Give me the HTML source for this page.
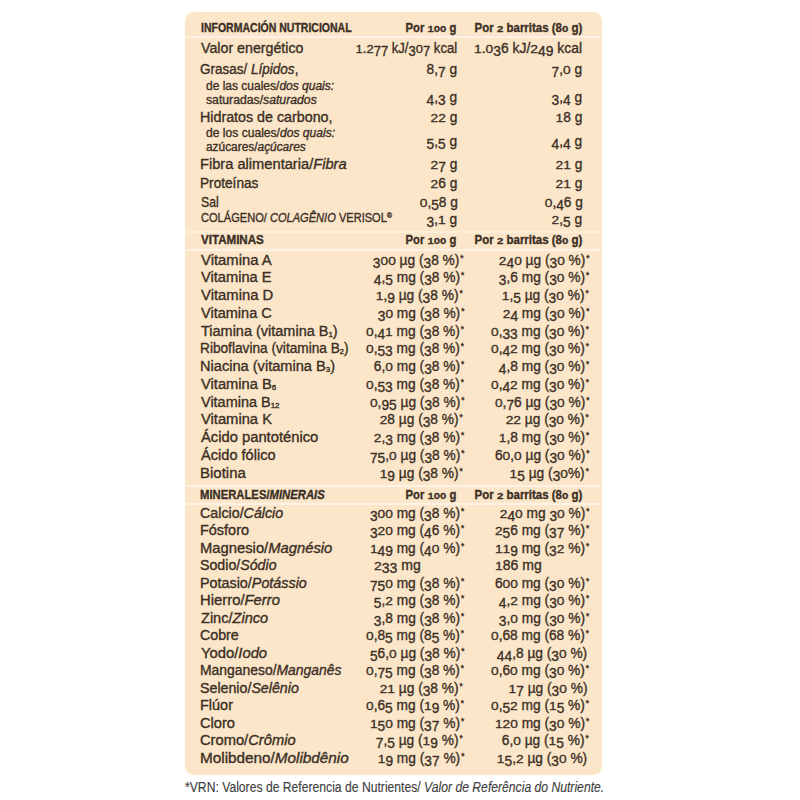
<!DOCTYPE html><html><head><meta charset="utf-8"><style>*{margin:0;padding:0;box-sizing:border-box}
html,body{width:800px;height:800px;background:#fff;overflow:hidden}
body{position:relative;font-family:"Liberation Sans", sans-serif;color:#3b2f25}
.box{position:absolute;left:185.5px;top:12.5px;width:415.5px;height:761.5px;background:#fce6c9;border-radius:8px;box-shadow:0 0 1px 0.5px #fce6c9}
.sep{position:absolute;left:186px;width:415px;height:2px;background:#fef3e6}
.t{position:absolute;white-space:nowrap;line-height:20px;height:20px;-webkit-text-stroke:0.35px #3b2f25}
.t span{display:inline-block}
sub{font-size:0.55em;vertical-align:-0.15em;line-height:0}
sup{font-size:0.6em;vertical-align:0.5em;line-height:0}
.ast{font-size:8.5px;vertical-align:4px;margin-left:1px;line-height:0}
.ox{display:inline-block}
.od{display:inline-block;transform:translateY(2.7px)}
</style></head><body>
<div class="box"></div>
<div class="sep" style="top:36px;opacity:1"></div>
<div class="sep" style="top:231px;opacity:0.6"></div>
<div class="sep" style="top:249px;opacity:1"></div>
<div class="sep" style="top:485px;opacity:1"></div>
<div class="sep" style="top:503px;opacity:1"></div>
<div class="t" style="font-size:12.5px;top:17.70px;font-weight:bold;left:201.00px;"><span style="transform:scaleX(0.8408);transform-origin:0 0;">INFORMACIÓN NUTRICIONAL</span></div>
<div class="t" style="font-size:12.5px;top:17.70px;font-weight:bold;right:343.60px;"><span style="transform:scaleX(0.9002);transform-origin:100% 0;">Por <span class="ox" style="transform-origin:50% 14.0px;transform:scaleY(0.78)">1</span><span class="ox" style="transform-origin:50% 14.0px;transform:scaleY(0.78)">0</span><span class="ox" style="transform-origin:50% 14.0px;transform:scaleY(0.78)">0</span> g</span></div>
<div class="t" style="font-size:12.5px;top:17.70px;font-weight:bold;right:218.00px;"><span style="transform:scaleX(0.9181);transform-origin:100% 0;">Por <span class="ox" style="transform-origin:50% 14.0px;transform:scaleY(0.78)">2</span> barritas (8<span class="ox" style="transform-origin:50% 14.0px;transform:scaleY(0.78)">0</span> g)</span></div>
<div class="t" style="font-size:14px;top:38.30px;left:201.00px;"><span style="transform:scaleX(1.0151);transform-origin:0 0;">Valor energético</span></div>
<div class="t" style="font-size:14px;top:38.30px;right:343.00px;"><span style="transform:scaleX(0.9306);transform-origin:100% 0;"><span class="ox" style="transform-origin:50% 15.0px;transform:scaleY(0.73)">1</span>.<span class="ox" style="transform-origin:50% 15.0px;transform:scaleY(0.73)">2</span><span class="od">7</span><span class="od">7</span> kJ/<span class="od">3</span><span class="ox" style="transform-origin:50% 15.0px;transform:scaleY(0.73)">0</span><span class="od">7</span> kcal</span></div>
<div class="t" style="font-size:14px;top:38.30px;right:218.00px;"><span style="transform:scaleX(0.9907);transform-origin:100% 0;"><span class="ox" style="transform-origin:50% 15.0px;transform:scaleY(0.73)">1</span>.<span class="ox" style="transform-origin:50% 15.0px;transform:scaleY(0.73)">0</span><span class="od">3</span>6 kJ/<span class="ox" style="transform-origin:50% 15.0px;transform:scaleY(0.73)">2</span><span class="od">4</span><span class="od">9</span> kcal</span></div>
<div class="t" style="font-size:14px;top:59.30px;left:200.00px;"><span style="transform:scaleX(0.9651);transform-origin:0 0;">Grasas/ <i>Lípidos</i>,</span></div>
<div class="t" style="font-size:14px;top:59.30px;right:343.00px;"><span style="transform:scaleX(0.9800);transform-origin:100% 0;">8,<span class="od">7</span> g</span></div>
<div class="t" style="font-size:14px;top:59.30px;right:218.00px;"><span style="transform:scaleX(0.9800);transform-origin:100% 0;"><span class="od">7</span>,<span class="ox" style="transform-origin:50% 15.0px;transform:scaleY(0.73)">0</span> g</span></div>
<div class="t" style="font-size:12px;top:75.50px;left:206.00px;"><span style="transform:scaleX(1.0000);transform-origin:0 0;">de las cuales/<i>dos quais:</i></span></div>
<div class="t" style="font-size:12px;top:90.20px;left:206.00px;"><span style="transform:scaleX(1.0183);transform-origin:0 0;">saturadas/<i>saturados</i></span></div>
<div class="t" style="font-size:14px;top:87.20px;right:343.00px;"><span style="transform:scaleX(0.9800);transform-origin:100% 0;"><span class="od">4</span>,<span class="od">3</span> g</span></div>
<div class="t" style="font-size:14px;top:87.20px;right:218.00px;"><span style="transform:scaleX(0.9800);transform-origin:100% 0;"><span class="od">3</span>,<span class="od">4</span> g</span></div>
<div class="t" style="font-size:14px;top:107.20px;left:200.00px;"><span style="transform:scaleX(1.0195);transform-origin:0 0;">Hidratos de carbono,</span></div>
<div class="t" style="font-size:14px;top:107.20px;right:343.00px;"><span style="transform:scaleX(0.9800);transform-origin:100% 0;"><span class="ox" style="transform-origin:50% 15.0px;transform:scaleY(0.73)">2</span><span class="ox" style="transform-origin:50% 15.0px;transform:scaleY(0.73)">2</span> g</span></div>
<div class="t" style="font-size:14px;top:107.20px;right:218.00px;"><span style="transform:scaleX(0.9800);transform-origin:100% 0;"><span class="ox" style="transform-origin:50% 15.0px;transform:scaleY(0.73)">1</span>8 g</span></div>
<div class="t" style="font-size:12px;top:122.90px;left:206.00px;"><span style="transform:scaleX(1.0078);transform-origin:0 0;">de los cuales/<i>dos quais:</i></span></div>
<div class="t" style="font-size:12px;top:136.60px;left:206.00px;"><span style="transform:scaleX(0.9902);transform-origin:0 0;">azúcares/<i>açúcares</i></span></div>
<div class="t" style="font-size:14px;top:131.10px;right:343.00px;"><span style="transform:scaleX(0.9800);transform-origin:100% 0;"><span class="od">5</span>,<span class="od">5</span> g</span></div>
<div class="t" style="font-size:14px;top:131.10px;right:218.00px;"><span style="transform:scaleX(0.9800);transform-origin:100% 0;"><span class="od">4</span>,<span class="od">4</span> g</span></div>
<div class="t" style="font-size:14px;top:153.70px;left:200.00px;"><span style="transform:scaleX(1.0468);transform-origin:0 0;">Fibra alimentaria/<i>Fibra</i></span></div>
<div class="t" style="font-size:14px;top:153.70px;right:343.00px;"><span style="transform:scaleX(0.9800);transform-origin:100% 0;"><span class="ox" style="transform-origin:50% 15.0px;transform:scaleY(0.73)">2</span><span class="od">7</span> g</span></div>
<div class="t" style="font-size:14px;top:153.70px;right:218.00px;"><span style="transform:scaleX(0.9800);transform-origin:100% 0;"><span class="ox" style="transform-origin:50% 15.0px;transform:scaleY(0.73)">2</span><span class="ox" style="transform-origin:50% 15.0px;transform:scaleY(0.73)">1</span> g</span></div>
<div class="t" style="font-size:14px;top:173.20px;left:200.00px;"><span style="transform:scaleX(0.9747);transform-origin:0 0;">Proteínas</span></div>
<div class="t" style="font-size:14px;top:173.20px;right:343.00px;"><span style="transform:scaleX(0.9800);transform-origin:100% 0;"><span class="ox" style="transform-origin:50% 15.0px;transform:scaleY(0.73)">2</span>6 g</span></div>
<div class="t" style="font-size:14px;top:173.20px;right:218.00px;"><span style="transform:scaleX(0.9800);transform-origin:100% 0;"><span class="ox" style="transform-origin:50% 15.0px;transform:scaleY(0.73)">2</span><span class="ox" style="transform-origin:50% 15.0px;transform:scaleY(0.73)">1</span> g</span></div>
<div class="t" style="font-size:14px;top:192.00px;left:201.00px;"><span style="transform:scaleX(0.8710);transform-origin:0 0;">Sal</span></div>
<div class="t" style="font-size:14px;top:192.00px;right:342.00px;"><span style="transform:scaleX(0.9800);transform-origin:100% 0;"><span class="ox" style="transform-origin:50% 15.0px;transform:scaleY(0.73)">0</span>,<span class="od">5</span>8 g</span></div>
<div class="t" style="font-size:14px;top:192.00px;right:217.00px;"><span style="transform:scaleX(0.9800);transform-origin:100% 0;"><span class="ox" style="transform-origin:50% 15.0px;transform:scaleY(0.73)">0</span>,<span class="od">4</span>6 g</span></div>
<div class="t" style="font-size:12.5px;top:208.45px;left:201.00px;"><span style="transform:scaleX(0.8861);transform-origin:0 0;">COLÁGENO/ <i>COLAGÊNIO</i> VERISOL<sup>®</sup></span></div>
<div class="t" style="font-size:14px;top:209.45px;right:343.00px;"><span style="transform:scaleX(0.9800);transform-origin:100% 0;"><span class="od">3</span>,<span class="ox" style="transform-origin:50% 15.0px;transform:scaleY(0.73)">1</span> g</span></div>
<div class="t" style="font-size:14px;top:209.45px;right:218.00px;"><span style="transform:scaleX(0.9800);transform-origin:100% 0;"><span class="ox" style="transform-origin:50% 15.0px;transform:scaleY(0.73)">2</span>,<span class="od">5</span> g</span></div>
<div class="t" style="font-size:12.5px;top:230.45px;font-weight:bold;left:201.00px;"><span style="transform:scaleX(0.9256);transform-origin:0 0;">VITAMINAS</span></div>
<div class="t" style="font-size:12.5px;top:230.45px;font-weight:bold;right:343.60px;"><span style="transform:scaleX(0.9002);transform-origin:100% 0;">Por <span class="ox" style="transform-origin:50% 14.0px;transform:scaleY(0.78)">1</span><span class="ox" style="transform-origin:50% 14.0px;transform:scaleY(0.78)">0</span><span class="ox" style="transform-origin:50% 14.0px;transform:scaleY(0.78)">0</span> g</span></div>
<div class="t" style="font-size:12.5px;top:230.45px;font-weight:bold;right:218.00px;"><span style="transform:scaleX(0.9181);transform-origin:100% 0;">Por <span class="ox" style="transform-origin:50% 14.0px;transform:scaleY(0.78)">2</span> barritas (8<span class="ox" style="transform-origin:50% 14.0px;transform:scaleY(0.78)">0</span> g)</span></div>
<div class="t" style="font-size:14px;top:249.70px;left:201.00px;"><span style="transform:scaleX(1.0608);transform-origin:0 0;">Vitamina A</span></div>
<div class="t" style="font-size:14px;top:249.70px;right:336.00px;"><span style="transform:scaleX(0.9800);transform-origin:100% 0;"><span class="od">3</span><span class="ox" style="transform-origin:50% 15.0px;transform:scaleY(0.73)">0</span><span class="ox" style="transform-origin:50% 15.0px;transform:scaleY(0.73)">0</span> µg (<span class="od">3</span>8 %)<span class="ast">*</span></span></div>
<div class="t" style="font-size:14px;top:249.70px;right:210.00px;"><span style="transform:scaleX(0.9800);transform-origin:100% 0;"><span class="ox" style="transform-origin:50% 15.0px;transform:scaleY(0.73)">2</span><span class="od">4</span><span class="ox" style="transform-origin:50% 15.0px;transform:scaleY(0.73)">0</span> µg (<span class="od">3</span><span class="ox" style="transform-origin:50% 15.0px;transform:scaleY(0.73)">0</span> %)<span class="ast">*</span></span></div>
<div class="t" style="font-size:14px;top:267.45px;left:201.00px;"><span style="transform:scaleX(1.0449);transform-origin:0 0;">Vitamina E</span></div>
<div class="t" style="font-size:14px;top:267.45px;right:336.00px;"><span style="transform:scaleX(0.9800);transform-origin:100% 0;"><span class="od">4</span>,<span class="od">5</span> mg (<span class="od">3</span>8 %)<span class="ast">*</span></span></div>
<div class="t" style="font-size:14px;top:267.45px;right:211.00px;"><span style="transform:scaleX(0.9800);transform-origin:100% 0;"><span class="od">3</span>,6 mg (<span class="od">3</span><span class="ox" style="transform-origin:50% 15.0px;transform:scaleY(0.73)">0</span> %)<span class="ast">*</span></span></div>
<div class="t" style="font-size:14px;top:285.20px;left:201.00px;"><span style="transform:scaleX(1.0600);transform-origin:0 0;">Vitamina D</span></div>
<div class="t" style="font-size:14px;top:285.20px;right:337.00px;"><span style="transform:scaleX(0.9800);transform-origin:100% 0;"><span class="ox" style="transform-origin:50% 15.0px;transform:scaleY(0.73)">1</span>,<span class="od">9</span> µg (<span class="od">3</span>8 %)<span class="ast">*</span></span></div>
<div class="t" style="font-size:14px;top:285.20px;right:211.00px;"><span style="transform:scaleX(0.9800);transform-origin:100% 0;"><span class="ox" style="transform-origin:50% 15.0px;transform:scaleY(0.73)">1</span>,<span class="od">5</span> µg (<span class="od">3</span><span class="ox" style="transform-origin:50% 15.0px;transform:scaleY(0.73)">0</span> %)<span class="ast">*</span></span></div>
<div class="t" style="font-size:14px;top:302.95px;left:201.00px;"><span style="transform:scaleX(1.0375);transform-origin:0 0;">Vitamina C</span></div>
<div class="t" style="font-size:14px;top:302.95px;right:336.00px;"><span style="transform:scaleX(0.9800);transform-origin:100% 0;"><span class="od">3</span><span class="ox" style="transform-origin:50% 15.0px;transform:scaleY(0.73)">0</span> mg (<span class="od">3</span>8 %)<span class="ast">*</span></span></div>
<div class="t" style="font-size:14px;top:302.95px;right:211.00px;"><span style="transform:scaleX(0.9800);transform-origin:100% 0;"><span class="ox" style="transform-origin:50% 15.0px;transform:scaleY(0.73)">2</span><span class="od">4</span> mg (<span class="od">3</span><span class="ox" style="transform-origin:50% 15.0px;transform:scaleY(0.73)">0</span> %)<span class="ast">*</span></span></div>
<div class="t" style="font-size:14px;top:320.70px;left:201.00px;"><span style="transform:scaleX(1.0344);transform-origin:0 0;">Tiamina (vitamina B<sub>1</sub>)</span></div>
<div class="t" style="font-size:14px;top:320.70px;right:336.00px;"><span style="transform:scaleX(0.9800);transform-origin:100% 0;"><span class="ox" style="transform-origin:50% 15.0px;transform:scaleY(0.73)">0</span>,<span class="od">4</span><span class="ox" style="transform-origin:50% 15.0px;transform:scaleY(0.73)">1</span> mg (<span class="od">3</span>8 %)<span class="ast">*</span></span></div>
<div class="t" style="font-size:14px;top:320.70px;right:211.00px;"><span style="transform:scaleX(0.9800);transform-origin:100% 0;"><span class="ox" style="transform-origin:50% 15.0px;transform:scaleY(0.73)">0</span>,<span class="od">3</span><span class="od">3</span> mg (<span class="od">3</span><span class="ox" style="transform-origin:50% 15.0px;transform:scaleY(0.73)">0</span> %)<span class="ast">*</span></span></div>
<div class="t" style="font-size:14px;top:338.45px;left:200.00px;"><span style="transform:scaleX(0.9768);transform-origin:0 0;">Riboflavina (vitamina B<sub>2</sub>)</span></div>
<div class="t" style="font-size:14px;top:338.45px;right:336.00px;"><span style="transform:scaleX(0.9800);transform-origin:100% 0;"><span class="ox" style="transform-origin:50% 15.0px;transform:scaleY(0.73)">0</span>,<span class="od">5</span><span class="od">3</span> mg (<span class="od">3</span>8 %)<span class="ast">*</span></span></div>
<div class="t" style="font-size:14px;top:338.45px;right:211.00px;"><span style="transform:scaleX(0.9800);transform-origin:100% 0;"><span class="ox" style="transform-origin:50% 15.0px;transform:scaleY(0.73)">0</span>,<span class="od">4</span><span class="ox" style="transform-origin:50% 15.0px;transform:scaleY(0.73)">2</span> mg (<span class="od">3</span><span class="ox" style="transform-origin:50% 15.0px;transform:scaleY(0.73)">0</span> %)<span class="ast">*</span></span></div>
<div class="t" style="font-size:14px;top:356.20px;left:200.00px;"><span style="transform:scaleX(1.0427);transform-origin:0 0;">Niacina (vitamina B<sub>3</sub>)</span></div>
<div class="t" style="font-size:14px;top:356.20px;right:336.00px;"><span style="transform:scaleX(0.9800);transform-origin:100% 0;">6,<span class="ox" style="transform-origin:50% 15.0px;transform:scaleY(0.73)">0</span> mg (<span class="od">3</span>8 %)<span class="ast">*</span></span></div>
<div class="t" style="font-size:14px;top:356.20px;right:211.00px;"><span style="transform:scaleX(0.9800);transform-origin:100% 0;"><span class="od">4</span>,8 mg (<span class="od">3</span><span class="ox" style="transform-origin:50% 15.0px;transform:scaleY(0.73)">0</span> %)<span class="ast">*</span></span></div>
<div class="t" style="font-size:14px;top:373.95px;left:201.00px;"><span style="transform:scaleX(1.0494);transform-origin:0 0;">Vitamina B<sub>6</sub></span></div>
<div class="t" style="font-size:14px;top:373.95px;right:336.00px;"><span style="transform:scaleX(0.9800);transform-origin:100% 0;"><span class="ox" style="transform-origin:50% 15.0px;transform:scaleY(0.73)">0</span>,<span class="od">5</span><span class="od">3</span> mg (<span class="od">3</span>8 %)<span class="ast">*</span></span></div>
<div class="t" style="font-size:14px;top:373.95px;right:211.00px;"><span style="transform:scaleX(0.9800);transform-origin:100% 0;"><span class="ox" style="transform-origin:50% 15.0px;transform:scaleY(0.73)">0</span>,<span class="od">4</span><span class="ox" style="transform-origin:50% 15.0px;transform:scaleY(0.73)">2</span> mg (<span class="od">3</span><span class="ox" style="transform-origin:50% 15.0px;transform:scaleY(0.73)">0</span> %)<span class="ast">*</span></span></div>
<div class="t" style="font-size:14px;top:391.70px;left:201.00px;"><span style="transform:scaleX(1.0334);transform-origin:0 0;">Vitamina B<sub>12</sub></span></div>
<div class="t" style="font-size:14px;top:391.70px;right:336.00px;"><span style="transform:scaleX(0.9800);transform-origin:100% 0;"><span class="ox" style="transform-origin:50% 15.0px;transform:scaleY(0.73)">0</span>,<span class="od">9</span><span class="od">5</span> µg (<span class="od">3</span>8 %)<span class="ast">*</span></span></div>
<div class="t" style="font-size:14px;top:391.70px;right:211.00px;"><span style="transform:scaleX(0.9800);transform-origin:100% 0;"><span class="ox" style="transform-origin:50% 15.0px;transform:scaleY(0.73)">0</span>,<span class="od">7</span>6 µg (<span class="od">3</span><span class="ox" style="transform-origin:50% 15.0px;transform:scaleY(0.73)">0</span> %)<span class="ast">*</span></span></div>
<div class="t" style="font-size:14px;top:409.45px;left:201.00px;"><span style="transform:scaleX(1.0523);transform-origin:0 0;">Vitamina K</span></div>
<div class="t" style="font-size:14px;top:409.45px;right:337.00px;"><span style="transform:scaleX(0.9800);transform-origin:100% 0;"><span class="ox" style="transform-origin:50% 15.0px;transform:scaleY(0.73)">2</span>8 µg (<span class="od">3</span>8 %)<span class="ast">*</span></span></div>
<div class="t" style="font-size:14px;top:409.45px;right:211.00px;"><span style="transform:scaleX(0.9800);transform-origin:100% 0;"><span class="ox" style="transform-origin:50% 15.0px;transform:scaleY(0.73)">2</span><span class="ox" style="transform-origin:50% 15.0px;transform:scaleY(0.73)">2</span> µg (<span class="od">3</span><span class="ox" style="transform-origin:50% 15.0px;transform:scaleY(0.73)">0</span> %)<span class="ast">*</span></span></div>
<div class="t" style="font-size:14px;top:427.20px;left:201.00px;"><span style="transform:scaleX(1.0537);transform-origin:0 0;">Ácido pantoténico</span></div>
<div class="t" style="font-size:14px;top:427.20px;right:336.00px;"><span style="transform:scaleX(0.9800);transform-origin:100% 0;"><span class="ox" style="transform-origin:50% 15.0px;transform:scaleY(0.73)">2</span>,<span class="od">3</span> mg (<span class="od">3</span>8 %)<span class="ast">*</span></span></div>
<div class="t" style="font-size:14px;top:427.20px;right:211.00px;"><span style="transform:scaleX(0.9800);transform-origin:100% 0;"><span class="ox" style="transform-origin:50% 15.0px;transform:scaleY(0.73)">1</span>,8 mg (<span class="od">3</span><span class="ox" style="transform-origin:50% 15.0px;transform:scaleY(0.73)">0</span> %)<span class="ast">*</span></span></div>
<div class="t" style="font-size:14px;top:444.95px;left:201.00px;"><span style="transform:scaleX(1.0419);transform-origin:0 0;">Ácido fólico</span></div>
<div class="t" style="font-size:14px;top:444.95px;right:336.00px;"><span style="transform:scaleX(0.9800);transform-origin:100% 0;"><span class="od">7</span><span class="od">5</span>,<span class="ox" style="transform-origin:50% 15.0px;transform:scaleY(0.73)">0</span> µg (<span class="od">3</span>8 %)<span class="ast">*</span></span></div>
<div class="t" style="font-size:14px;top:444.95px;right:211.00px;"><span style="transform:scaleX(0.9800);transform-origin:100% 0;">6<span class="ox" style="transform-origin:50% 15.0px;transform:scaleY(0.73)">0</span>,<span class="ox" style="transform-origin:50% 15.0px;transform:scaleY(0.73)">0</span> µg (<span class="od">3</span><span class="ox" style="transform-origin:50% 15.0px;transform:scaleY(0.73)">0</span> %)<span class="ast">*</span></span></div>
<div class="t" style="font-size:14px;top:462.70px;left:200.00px;"><span style="transform:scaleX(1.0705);transform-origin:0 0;">Biotina</span></div>
<div class="t" style="font-size:14px;top:462.70px;right:337.00px;"><span style="transform:scaleX(0.9800);transform-origin:100% 0;"><span class="ox" style="transform-origin:50% 15.0px;transform:scaleY(0.73)">1</span><span class="od">9</span> µg (<span class="od">3</span>8 %)<span class="ast">*</span></span></div>
<div class="t" style="font-size:14px;top:462.70px;right:211.00px;"><span style="transform:scaleX(0.9800);transform-origin:100% 0;"><span class="ox" style="transform-origin:50% 15.0px;transform:scaleY(0.73)">1</span><span class="od">5</span> µg (<span class="od">3</span><span class="ox" style="transform-origin:50% 15.0px;transform:scaleY(0.73)">0</span>%)<span class="ast">*</span></span></div>
<div class="t" style="font-size:12.5px;top:485.00px;font-weight:bold;left:200.00px;"><span style="transform:scaleX(0.9022);transform-origin:0 0;">MINERALES/<i>MINERAIS</i></span></div>
<div class="t" style="font-size:12.5px;top:485.00px;font-weight:bold;right:343.60px;"><span style="transform:scaleX(0.9002);transform-origin:100% 0;">Por <span class="ox" style="transform-origin:50% 14.0px;transform:scaleY(0.78)">1</span><span class="ox" style="transform-origin:50% 14.0px;transform:scaleY(0.78)">0</span><span class="ox" style="transform-origin:50% 14.0px;transform:scaleY(0.78)">0</span> g</span></div>
<div class="t" style="font-size:12.5px;top:485.00px;font-weight:bold;right:218.00px;"><span style="transform:scaleX(0.9181);transform-origin:100% 0;">Por <span class="ox" style="transform-origin:50% 14.0px;transform:scaleY(0.78)">2</span> barritas (8<span class="ox" style="transform-origin:50% 14.0px;transform:scaleY(0.78)">0</span> g)</span></div>
<div class="t" style="font-size:14px;top:502.70px;left:200.00px;"><span style="transform:scaleX(1.0186);transform-origin:0 0;">Calcio/<i>Cálcio</i></span></div>
<div class="t" style="font-size:14px;top:502.70px;right:336.00px;"><span style="transform:scaleX(0.9800);transform-origin:100% 0;"><span class="od">3</span><span class="ox" style="transform-origin:50% 15.0px;transform:scaleY(0.73)">0</span><span class="ox" style="transform-origin:50% 15.0px;transform:scaleY(0.73)">0</span> mg (<span class="od">3</span>8 %)<span class="ast">*</span></span></div>
<div class="t" style="font-size:14px;top:502.70px;right:210.00px;"><span style="transform:scaleX(0.9800);transform-origin:100% 0;"><span class="ox" style="transform-origin:50% 15.0px;transform:scaleY(0.73)">2</span><span class="od">4</span><span class="ox" style="transform-origin:50% 15.0px;transform:scaleY(0.73)">0</span> mg <span class="od">3</span><span class="ox" style="transform-origin:50% 15.0px;transform:scaleY(0.73)">0</span> %)<span class="ast">*</span></span></div>
<div class="t" style="font-size:14px;top:520.20px;left:200.00px;"><span style="transform:scaleX(1.0324);transform-origin:0 0;">Fósforo</span></div>
<div class="t" style="font-size:14px;top:520.20px;right:336.00px;"><span style="transform:scaleX(0.9800);transform-origin:100% 0;"><span class="od">3</span><span class="ox" style="transform-origin:50% 15.0px;transform:scaleY(0.73)">2</span><span class="ox" style="transform-origin:50% 15.0px;transform:scaleY(0.73)">0</span> mg (<span class="od">4</span>6 %)<span class="ast">*</span></span></div>
<div class="t" style="font-size:14px;top:520.20px;right:211.00px;"><span style="transform:scaleX(0.9800);transform-origin:100% 0;"><span class="ox" style="transform-origin:50% 15.0px;transform:scaleY(0.73)">2</span><span class="od">5</span>6 mg (<span class="od">3</span><span class="od">7</span> %)<span class="ast">*</span></span></div>
<div class="t" style="font-size:14px;top:537.70px;left:200.00px;"><span style="transform:scaleX(1.0560);transform-origin:0 0;">Magnesio/<i>Magnésio</i></span></div>
<div class="t" style="font-size:14px;top:537.70px;right:336.00px;"><span style="transform:scaleX(0.9800);transform-origin:100% 0;"><span class="ox" style="transform-origin:50% 15.0px;transform:scaleY(0.73)">1</span><span class="od">4</span><span class="od">9</span> mg (<span class="od">4</span><span class="ox" style="transform-origin:50% 15.0px;transform:scaleY(0.73)">0</span> %)<span class="ast">*</span></span></div>
<div class="t" style="font-size:14px;top:537.70px;right:211.00px;"><span style="transform:scaleX(0.9800);transform-origin:100% 0;"><span class="ox" style="transform-origin:50% 15.0px;transform:scaleY(0.73)">1</span><span class="ox" style="transform-origin:50% 15.0px;transform:scaleY(0.73)">1</span><span class="od">9</span> mg (<span class="od">3</span><span class="ox" style="transform-origin:50% 15.0px;transform:scaleY(0.73)">2</span> %)<span class="ast">*</span></span></div>
<div class="t" style="font-size:14px;top:555.20px;left:200.00px;"><span style="transform:scaleX(1.0134);transform-origin:0 0;">Sodio/<i>Sódio</i></span></div>
<div class="t" style="font-size:14px;top:555.20px;left:374.00px;"><span style="transform:scaleX(1.0000);transform-origin:0 0;"><span class="ox" style="transform-origin:50% 15.0px;transform:scaleY(0.73)">2</span><span class="od">3</span><span class="od">3</span> mg</span></div>
<div class="t" style="font-size:14px;top:555.20px;left:495.00px;"><span style="transform:scaleX(1.0000);transform-origin:0 0;"><span class="ox" style="transform-origin:50% 15.0px;transform:scaleY(0.73)">1</span>86 mg</span></div>
<div class="t" style="font-size:14px;top:572.70px;left:200.00px;"><span style="transform:scaleX(1.0241);transform-origin:0 0;">Potasio/<i>Potássio</i></span></div>
<div class="t" style="font-size:14px;top:572.70px;right:336.00px;"><span style="transform:scaleX(0.9800);transform-origin:100% 0;"><span class="od">7</span><span class="od">5</span><span class="ox" style="transform-origin:50% 15.0px;transform:scaleY(0.73)">0</span> mg (<span class="od">3</span>8 %)<span class="ast">*</span></span></div>
<div class="t" style="font-size:14px;top:572.70px;right:211.00px;"><span style="transform:scaleX(0.9800);transform-origin:100% 0;">6<span class="ox" style="transform-origin:50% 15.0px;transform:scaleY(0.73)">0</span><span class="ox" style="transform-origin:50% 15.0px;transform:scaleY(0.73)">0</span> mg (<span class="od">3</span><span class="ox" style="transform-origin:50% 15.0px;transform:scaleY(0.73)">0</span> %)<span class="ast">*</span></span></div>
<div class="t" style="font-size:14px;top:590.20px;left:200.00px;"><span style="transform:scaleX(1.0602);transform-origin:0 0;">Hierro/<i>Ferro</i></span></div>
<div class="t" style="font-size:14px;top:590.20px;right:336.00px;"><span style="transform:scaleX(0.9800);transform-origin:100% 0;"><span class="od">5</span>,<span class="ox" style="transform-origin:50% 15.0px;transform:scaleY(0.73)">2</span> mg (<span class="od">3</span>8 %)<span class="ast">*</span></span></div>
<div class="t" style="font-size:14px;top:590.20px;right:211.00px;"><span style="transform:scaleX(0.9800);transform-origin:100% 0;"><span class="od">4</span>,<span class="ox" style="transform-origin:50% 15.0px;transform:scaleY(0.73)">2</span> mg (<span class="od">3</span><span class="ox" style="transform-origin:50% 15.0px;transform:scaleY(0.73)">0</span> %)<span class="ast">*</span></span></div>
<div class="t" style="font-size:14px;top:607.70px;left:201.00px;"><span style="transform:scaleX(1.0393);transform-origin:0 0;">Zinc/<i>Zinco</i></span></div>
<div class="t" style="font-size:14px;top:607.70px;right:336.00px;"><span style="transform:scaleX(0.9800);transform-origin:100% 0;"><span class="od">3</span>,8 mg (<span class="od">3</span>8 %)<span class="ast">*</span></span></div>
<div class="t" style="font-size:14px;top:607.70px;right:211.00px;"><span style="transform:scaleX(0.9800);transform-origin:100% 0;"><span class="od">3</span>,<span class="ox" style="transform-origin:50% 15.0px;transform:scaleY(0.73)">0</span> mg (<span class="od">3</span><span class="ox" style="transform-origin:50% 15.0px;transform:scaleY(0.73)">0</span> %)<span class="ast">*</span></span></div>
<div class="t" style="font-size:14px;top:625.20px;left:200.00px;"><span style="transform:scaleX(1.0140);transform-origin:0 0;">Cobre</span></div>
<div class="t" style="font-size:14px;top:625.20px;right:336.00px;"><span style="transform:scaleX(0.9800);transform-origin:100% 0;"><span class="ox" style="transform-origin:50% 15.0px;transform:scaleY(0.73)">0</span>,8<span class="od">5</span> mg (8<span class="od">5</span> %)<span class="ast">*</span></span></div>
<div class="t" style="font-size:14px;top:625.20px;right:211.00px;"><span style="transform:scaleX(0.9800);transform-origin:100% 0;"><span class="ox" style="transform-origin:50% 15.0px;transform:scaleY(0.73)">0</span>,68 mg (68 %)<span class="ast">*</span></span></div>
<div class="t" style="font-size:14px;top:642.70px;left:201.00px;"><span style="transform:scaleX(1.0566);transform-origin:0 0;">Yodo/<i>Iodo</i></span></div>
<div class="t" style="font-size:14px;top:642.70px;right:336.00px;"><span style="transform:scaleX(0.9800);transform-origin:100% 0;"><span class="od">5</span>6,<span class="ox" style="transform-origin:50% 15.0px;transform:scaleY(0.73)">0</span> µg (<span class="od">3</span>8 %)<span class="ast">*</span></span></div>
<div class="t" style="font-size:14px;top:642.70px;right:213.00px;"><span style="transform:scaleX(0.9800);transform-origin:100% 0;"><span class="od">4</span><span class="od">4</span>,8 µg (<span class="od">3</span><span class="ox" style="transform-origin:50% 15.0px;transform:scaleY(0.73)">0</span> %)</span></div>
<div class="t" style="font-size:14px;top:660.20px;left:200.00px;"><span style="transform:scaleX(0.9930);transform-origin:0 0;">Manganeso/<i>Manganês</i></span></div>
<div class="t" style="font-size:14px;top:660.20px;right:336.00px;"><span style="transform:scaleX(0.9800);transform-origin:100% 0;"><span class="ox" style="transform-origin:50% 15.0px;transform:scaleY(0.73)">0</span>,<span class="od">7</span><span class="od">5</span> mg (<span class="od">3</span>8 %)<span class="ast">*</span></span></div>
<div class="t" style="font-size:14px;top:660.20px;right:211.00px;"><span style="transform:scaleX(0.9800);transform-origin:100% 0;"><span class="ox" style="transform-origin:50% 15.0px;transform:scaleY(0.73)">0</span>,6<span class="ox" style="transform-origin:50% 15.0px;transform:scaleY(0.73)">0</span> mg (<span class="od">3</span><span class="ox" style="transform-origin:50% 15.0px;transform:scaleY(0.73)">0</span> %)<span class="ast">*</span></span></div>
<div class="t" style="font-size:14px;top:677.70px;left:200.00px;"><span style="transform:scaleX(1.0156);transform-origin:0 0;">Selenio/<i>Selênio</i></span></div>
<div class="t" style="font-size:14px;top:677.70px;right:337.00px;"><span style="transform:scaleX(0.9800);transform-origin:100% 0;"><span class="ox" style="transform-origin:50% 15.0px;transform:scaleY(0.73)">2</span><span class="ox" style="transform-origin:50% 15.0px;transform:scaleY(0.73)">1</span> µg (<span class="od">3</span>8 %)<span class="ast">*</span></span></div>
<div class="t" style="font-size:14px;top:677.70px;right:213.00px;"><span style="transform:scaleX(0.9800);transform-origin:100% 0;"><span class="ox" style="transform-origin:50% 15.0px;transform:scaleY(0.73)">1</span><span class="od">7</span> µg (<span class="od">3</span><span class="ox" style="transform-origin:50% 15.0px;transform:scaleY(0.73)">0</span> %)</span></div>
<div class="t" style="font-size:14px;top:695.20px;left:200.00px;"><span style="transform:scaleX(1.0328);transform-origin:0 0;">Flúor</span></div>
<div class="t" style="font-size:14px;top:695.20px;right:336.00px;"><span style="transform:scaleX(0.9800);transform-origin:100% 0;"><span class="ox" style="transform-origin:50% 15.0px;transform:scaleY(0.73)">0</span>,6<span class="od">5</span> mg (<span class="ox" style="transform-origin:50% 15.0px;transform:scaleY(0.73)">1</span><span class="od">9</span> %)<span class="ast">*</span></span></div>
<div class="t" style="font-size:14px;top:695.20px;right:211.00px;"><span style="transform:scaleX(0.9800);transform-origin:100% 0;"><span class="ox" style="transform-origin:50% 15.0px;transform:scaleY(0.73)">0</span>,<span class="od">5</span><span class="ox" style="transform-origin:50% 15.0px;transform:scaleY(0.73)">2</span> mg (<span class="ox" style="transform-origin:50% 15.0px;transform:scaleY(0.73)">1</span><span class="od">5</span> %)<span class="ast">*</span></span></div>
<div class="t" style="font-size:14px;top:712.70px;left:200.00px;"><span style="transform:scaleX(1.0464);transform-origin:0 0;">Cloro</span></div>
<div class="t" style="font-size:14px;top:712.70px;right:336.00px;"><span style="transform:scaleX(0.9800);transform-origin:100% 0;"><span class="ox" style="transform-origin:50% 15.0px;transform:scaleY(0.73)">1</span><span class="od">5</span><span class="ox" style="transform-origin:50% 15.0px;transform:scaleY(0.73)">0</span> mg (<span class="od">3</span><span class="od">7</span> %)<span class="ast">*</span></span></div>
<div class="t" style="font-size:14px;top:712.70px;right:211.00px;"><span style="transform:scaleX(0.9800);transform-origin:100% 0;"><span class="ox" style="transform-origin:50% 15.0px;transform:scaleY(0.73)">1</span><span class="ox" style="transform-origin:50% 15.0px;transform:scaleY(0.73)">2</span><span class="ox" style="transform-origin:50% 15.0px;transform:scaleY(0.73)">0</span> mg (<span class="od">3</span><span class="ox" style="transform-origin:50% 15.0px;transform:scaleY(0.73)">0</span> %)<span class="ast">*</span></span></div>
<div class="t" style="font-size:14px;top:730.20px;left:200.00px;"><span style="transform:scaleX(1.0500);transform-origin:0 0;">Cromo/<i>Crômio</i></span></div>
<div class="t" style="font-size:14px;top:730.20px;right:337.00px;"><span style="transform:scaleX(0.9800);transform-origin:100% 0;"><span class="od">7</span>,<span class="od">5</span> µg (<span class="ox" style="transform-origin:50% 15.0px;transform:scaleY(0.73)">1</span><span class="od">9</span> %)<span class="ast">*</span></span></div>
<div class="t" style="font-size:14px;top:730.20px;right:211.00px;"><span style="transform:scaleX(0.9800);transform-origin:100% 0;">6,<span class="ox" style="transform-origin:50% 15.0px;transform:scaleY(0.73)">0</span> µg (<span class="ox" style="transform-origin:50% 15.0px;transform:scaleY(0.73)">1</span><span class="od">5</span> %)<span class="ast">*</span></span></div>
<div class="t" style="font-size:14px;top:747.70px;left:200.00px;"><span style="transform:scaleX(1.0920);transform-origin:0 0;">Molibdeno/<i>Molibdênio</i></span></div>
<div class="t" style="font-size:14px;top:747.70px;right:336.00px;"><span style="transform:scaleX(0.9800);transform-origin:100% 0;"><span class="ox" style="transform-origin:50% 15.0px;transform:scaleY(0.73)">1</span><span class="od">9</span> mg (<span class="od">3</span><span class="od">7</span> %)<span class="ast">*</span></span></div>
<div class="t" style="font-size:14px;top:747.70px;right:213.00px;"><span style="transform:scaleX(0.9800);transform-origin:100% 0;"><span class="ox" style="transform-origin:50% 15.0px;transform:scaleY(0.73)">1</span><span class="od">5</span>,<span class="ox" style="transform-origin:50% 15.0px;transform:scaleY(0.73)">2</span> µg (<span class="od">3</span><span class="ox" style="transform-origin:50% 15.0px;transform:scaleY(0.73)">0</span> %)</span></div>
<div class="t" style="font-size:15.4px;top:777.40px;color:#404040;-webkit-text-stroke:0.15px #404040;left:185.00px;"><span style="transform:scaleX(0.7903);transform-origin:0 0;">*VRN: Valores de Referencia de Nutrientes/ <i>Valor de Referência do Nutriente.</i></span></div>
</body></html>
